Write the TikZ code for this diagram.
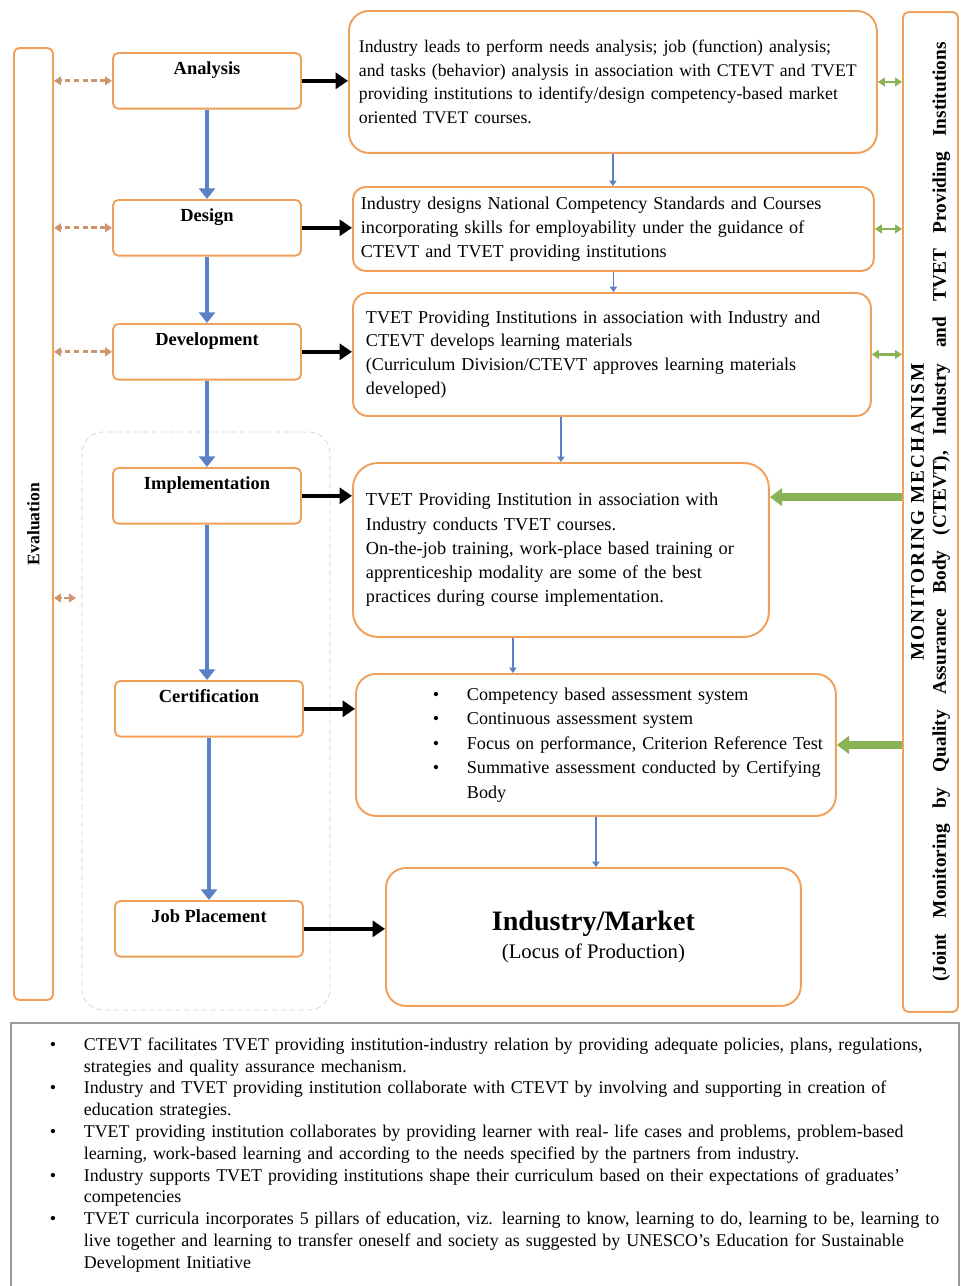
\documentclass[tikz,border=0pt]{standalone}
\usepackage{fontspec}
\setmainfont{Liberation Serif}
\usetikzlibrary{arrows.meta, positioning, calc}

\definecolor{boxorange}{RGB}{240,160,90}
\definecolor{flowblue}{RGB}{92,128,196}
\definecolor{mongreen}{RGB}{140,178,88}
\definecolor{evaldash}{RGB}{205,150,110}

\newcommand\assessitem[1]{\hspace*{1.38cm}\makebox[0.68cm][l]{\textbullet}#1}
\newcommand\noteitem[1]{\hspace*{0.58cm}\makebox[0.68cm][l]{\textbullet}#1}
\newcommand\notecont[1]{\hspace*{1.26cm}#1}

\begin{document}
\begin{tikzpicture}[
  x=0.02cm, y=-0.02cm,
  stagebox/.style={draw=boxorange, line width=1.1pt, rounded corners=3pt, fill=white,
    minimum width=3.76cm, inner sep=0pt, text height=12.5pt, text depth=19.2pt,
    font=\fontsize{10.5}{12}\selectfont\bfseries, anchor=north},
  infobox/.style={draw=boxorange, line width=1.1pt, rounded corners=0.4cm, fill=white,
    align=left, anchor=north west, inner ysep=0pt, font=\fontsize{10.3}{13.5}\selectfont},
  sidebox/.style={draw=boxorange, line width=1.1pt, rounded corners=3pt, rotate=90,
    align=center, font=\fontsize{11}{12.5}\selectfont\bfseries},
  flow/.style={flowblue, line width=2.8pt, -{Triangle[width=9pt,length=6pt]}},
  link/.style={flowblue, line width=0.9pt, -{Triangle[width=4pt,length=3pt]}},
  feed/.style={black, line width=2.6pt, -{Triangle[width=9pt,length=7pt]}},
  evalfeed/.style={evaldash, line width=1.6pt, dash pattern=on 3pt off 2pt,
    {Triangle[width=5pt,length=4pt]}-{Triangle[width=5pt,length=4pt]}},
  monfeed/.style={mongreen, line width=1.4pt,
    {Triangle[width=5pt,length=4pt]}-{Triangle[width=5pt,length=4pt]}},
  monpush/.style={mongreen, line width=4.5pt, -{Triangle[width=10pt,length=7pt]}},
]
  \useasboundingbox (0,0) rectangle (961,1286);

  % delivery group
  \draw[gray!35, densely dashed, rounded corners=12pt] (82,432) rectangle (330,1010);

  % stages
  \node[stagebox] (ana) at (207,52) {Analysis};
  \node[stagebox] (des) at (207,199) {Design};
  \node[stagebox] (dev) at (207,323) {Development};
  \node[stagebox] (imp) at (207,467) {Implementation};
  \node[stagebox] (cer) at (209,680) {Certification};
  \node[stagebox] (job) at (209,900) {Job Placement};

  % descriptions
  \node[infobox, inner xsep=0.2cm, text width=10.16cm, minimum height=2.84cm,
    font=\fontsize{10.1}{13.5}\selectfont] (need) at (348,10)
    {Industry leads to perform needs analysis; job (function) analysis;\\
     and tasks (behavior) analysis in association with CTEVT and TVET\\
     providing institutions to identify/design competency-based market\\
     oriented TVET courses.};
  \node[infobox, rounded corners=0.25cm, inner xsep=0.16cm, text width=10.1cm, minimum height=1.68cm] (std) at (352,186)
    {Industry designs National Competency Standards and Courses\\
     incorporating skills for employability under the guidance of\\
     CTEVT and TVET providing institutions};
  \node[infobox, rounded corners=0.3cm, inner xsep=0.26cm, text width=9.84cm, minimum height=2.46cm] (mat) at (352,292)
    {TVET Providing Institutions in association with Industry and\\
     CTEVT develops learning materials\\
     (Curriculum Division/CTEVT approves learning materials\\
     developed)};
  \node[infobox, rounded corners=0.5cm, inner xsep=0.26cm, text width=7.8cm, minimum height=3.48cm,
    font=\fontsize{10.4}{13.8}\selectfont] (run) at (352,462)
    {TVET Providing Institution in association with\\
     Industry conducts TVET courses.\\
     On-the-job training, work-place based training or\\
     apprenticeship modality are some of the best\\
     practices during course implementation.};
  \node[infobox, inner xsep=0.16cm, text width=9.28cm, minimum height=2.84cm,
    font=\fontsize{10.3}{14}\selectfont] (assess) at (355,673)
    {\assessitem{Competency based assessment system}\\
     \assessitem{Continuous assessment system}\\
     \assessitem{Focus on performance, Criterion Reference Test}\\
     \assessitem{Summative assessment conducted by Certifying}\\
     \hspace*{2.06cm}Body};
  \node[infobox, align=center, minimum width=8.3cm, minimum height=2.76cm] (market) at (385,867)
    {{\fontsize{16}{20}\selectfont\bfseries Industry/Market}\\[2pt]
     {\fontsize{11.8}{13}\selectfont (Locus of Production)}};

  % side frames
  \node[sidebox, minimum width=19.04cm, minimum height=0.78cm,
    font=\fontsize{10}{12}\selectfont\bfseries] (eval) at (33.5,524) {Evaluation};
  \node[sidebox, minimum width=20cm, minimum height=1.1cm, inner sep=0pt] (mon) at (930.5,512)
    {{\addfontfeature{LetterSpace=10}MONITORING MECHANISM}\\
     \makebox[18.8cm][s]{(Joint Monitoring by Quality Assurance Body (CTEVT), Industry and TVET Providing Institutions}};

  % notes
  \node[draw=gray!80, line width=1pt, fill=white, anchor=north west, minimum width=18.96cm,
    minimum height=5.28cm, inner xsep=0.2cm, text width=18.56cm, align=left,
    font=\fontsize{10.2}{12.4}\selectfont] (notes) at (10,1022)
    {\noteitem{CTEVT facilitates TVET providing institution-industry relation by providing adequate policies, plans, regulations,}\\
     \notecont{strategies and quality assurance mechanism.}\\
     \noteitem{Industry and TVET providing institution collaborate with CTEVT by involving and supporting in creation of}\\
     \notecont{education strategies.}\\
     \noteitem{TVET providing institution collaborates by providing learner with real- life cases and problems, problem-based}\\
     \notecont{learning, work-based learning and according to the needs specified by the partners from industry.}\\
     \noteitem{Industry supports TVET providing institutions shape their curriculum based on their expectations of graduates’}\\
     \notecont{competencies}\\
     \noteitem{TVET curricula incorporates 5 pillars of education, viz. learning to know, learning to do, learning to be, learning to}\\
     \notecont{live together and learning to transfer oneself and society as suggested by UNESCO’s Education for Sustainable}\\
     \notecont{Development Initiative}};

  % stage flow
  \draw[flow] (ana) -- (des);
  \draw[flow] (des) -- (dev);
  \draw[flow] (dev) -- (imp);
  \draw[flow] (imp.south) -- (imp.south |- cer.north);
  \draw[flow] (cer) -- (job);

  \foreach \s/\t in {ana/need, des/std, dev/mat, imp/run, cer/assess, job/market}
    \draw[feed] (\s.east) -- (\s.east -| \t.west);

  % links between descriptions
  \draw[link] (need.south) -- (need.south |- std.north);
  \draw[link] (std.south) -- (std.south |- mat.north);
  \draw[link] (mat.south -| run.north) -- (run.north);
  \coordinate (runout) at ($(run.south west)!0.385!(run.south east)$);
  \draw[link] (runout) -- (runout |- assess.north);
  \draw[link] (assess.south) -- (assess.south |- market.north);

  % evaluation
  \foreach \s in {ana, des, dev}
    \draw[evalfeed] (\s.west) -- (\s.west -| eval.south);
  \coordinate (evalstub) at (76,598);
  \draw[evalfeed] (evalstub) -- (evalstub -| eval.south);

  % monitoring
  \foreach \t in {need, std, mat}
    \draw[monfeed] (\t.east -| mon.north) -- (\t.east);
  \coordinate (runin) at ($(run.north east)!0.2!(run.south east)$);
  \draw[monpush] (runin -| mon.north) -- (runin);
  \draw[monpush] (assess.east -| mon.north) -- (assess.east);
\end{tikzpicture}
\end{document}
